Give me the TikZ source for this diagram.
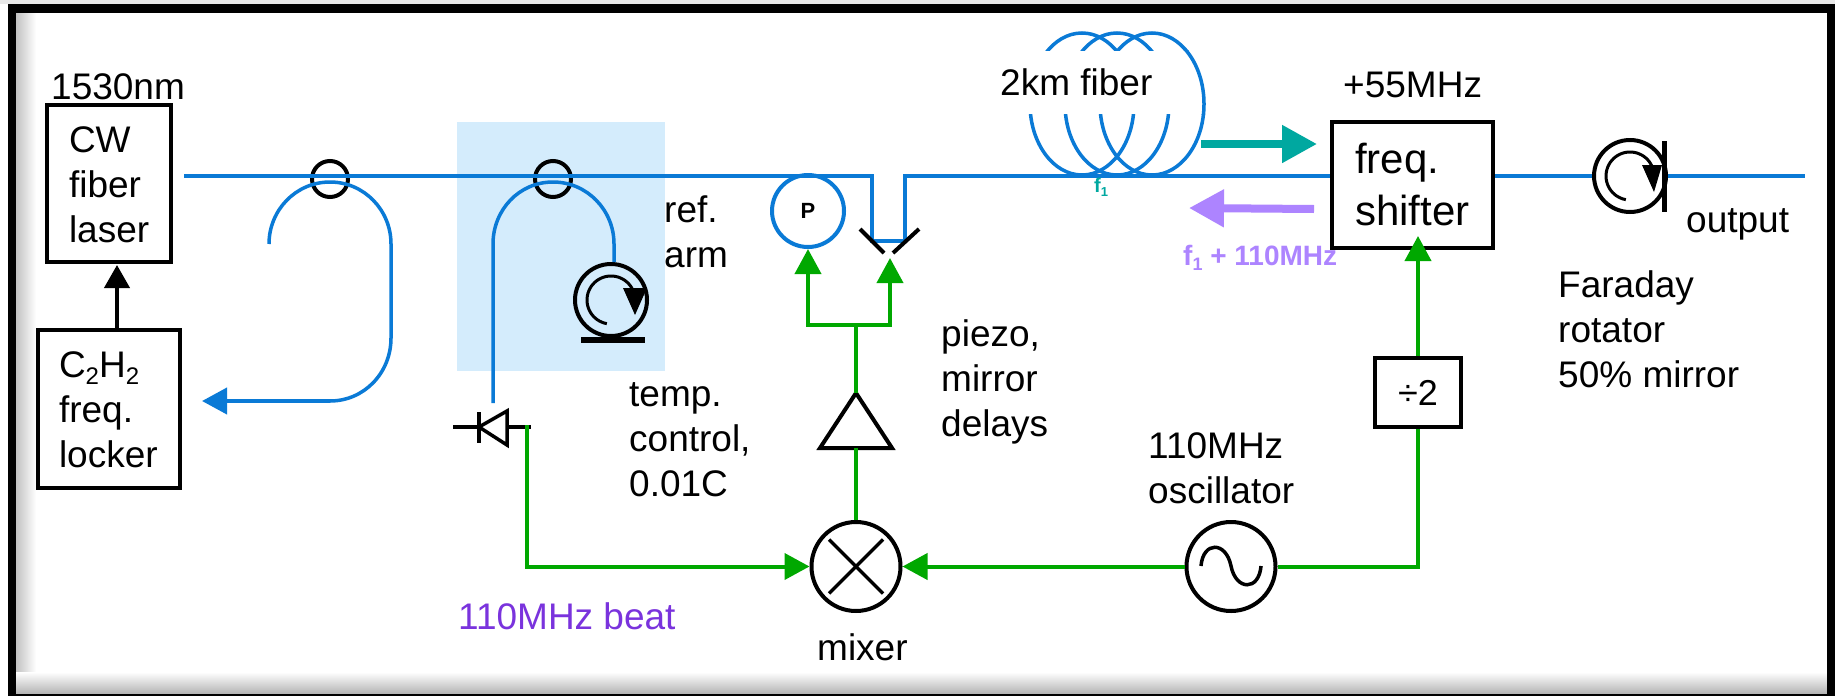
\documentclass[tikz,border=0pt]{standalone}
\usepackage{fontspec}
\setmainfont{Liberation Sans}
\usetikzlibrary{arrows.meta,calc}
\definecolor{fiberblue}{HTML}{0A7AD6}
\definecolor{sigreen}{HTML}{00A800}
\definecolor{tealc}{HTML}{00A8A0}
\definecolor{lilac}{HTML}{AD84FF}
\definecolor{beatpurple}{HTML}{7A33DD}
\definecolor{panel}{HTML}{D4ECFC}
\newcommand{\fsz}[2]{\fontsize{#1}{#2}\selectfont}
\tikzset{
  fiber/.style={draw=fiberblue,line width=4pt},
  sig/.style={draw=sigreen,line width=4pt},
  gtip/.style={-{Triangle[length=25pt,width=26pt]}},
  boxn/.style={draw=black,line width=4.5pt,inner sep=0pt,align=left},
  ring/.style={circle,draw=black,line width=4pt,inner sep=0pt},
  lbl/.style={anchor=base west,inner sep=0pt,align=left,font=\fsz{37}{45}},
  blackline/.style={draw=black,line width=4pt},
}
\begin{document}
\begin{tikzpicture}[x=1pt,y=-1pt]
\useasboundingbox (0,0) rectangle (1835,696);
% page and frame
\fill[white] (0,0) rectangle (1835,696);
\fill[black!9] (0,0) rectangle (1835,4);
\shade[left color=black!24,right color=white] (16,12) rectangle (36,672);
\shade[top color=white,bottom color=black!30] (16,672) rectangle (1827,694);
\fill[black] (8,4) rectangle (1835,12.5);
\fill[black] (8,4) rectangle (16,696);
\fill[black] (1826.5,4) rectangle (1835,696);
\fill[black] (8,694) rectangle (1835,696);
% temperature controlled panel
\fill[panel] (457,122) rectangle (665,371);

% boxes
\node[boxn,minimum width=124pt,minimum height=157pt,text width=80pt,font=\fsz{37}{45},text height=0pt,text depth=63pt] (laser) at (109,183.5) {CW\\fiber\\laser};
\node[boxn,minimum width=142pt,minimum height=158pt,text width=100pt,font=\fsz{37}{45},text height=0pt,text depth=64pt] (locker) at (109,409) {C\raisebox{-7pt}{\fsz{24}{24}2}H\raisebox{-7pt}{\fsz{24}{24}2}\\freq.\\locker};
\node[boxn,minimum width=161pt,minimum height=126pt,text width=115pt,font=\fsz{42}{52},text height=0pt,text depth=24pt] (shifter) at (1412.5,185) {freq.\\shifter};
\node[boxn,minimum width=86pt,minimum height=69pt,align=center,font=\fsz{36}{45}] (div) at (1418,392.5) {÷2};

% circles
\node[ring,minimum size=36pt] (cplA) at (330,179) {};
\node[ring,minimum size=36pt] (cplB) at (553,179) {};
\node[ring,minimum size=72pt] (refrot) at (611,300) {};
\node[ring,minimum size=72pt] (farrot) at (1630,176) {};
\node[ring,minimum size=89pt] (mixer) at (856,566.5) {};
\node[ring,minimum size=89pt] (osc) at (1231,566.5) {};
\node[circle,draw=fiberblue,line width=4pt,inner sep=0pt,minimum size=72pt,font=\bfseries\fsz{22}{22}] (det) at (808,211) {P};

% blue fibre
\coordinate (mstart) at (184,176);
\coordinate (bendA) at (872,176);
\coordinate (bendB) at (872,241);
\coordinate (bendC) at (905,241);
\coordinate (bendD) at (905,176);
\coordinate (outend) at (1805,176);
\draw[fiber,line join=miter] (mstart) -- (bendA) -- (bendB) -- (bendC) -- (bendD) -- (bendD -| shifter.west);
\draw[fiber] (farrot.east) -- (outend);
\draw[fiber] (shifter.east |- farrot.west) -- (farrot.west);

% tap 1
\coordinate (tapAstart) at (269,244);
\coordinate (tapAend) at (202,401);
\draw[draw=fiberblue,line width=3.5pt] (tapAstart) .. controls (269,210) and (296,182) .. (330,182)
  .. controls (364,182) and (391,210) .. (391,244) -- (391,338)
  .. controls (391,373) and (364,401) .. (330,401);
\draw[draw=fiberblue,line width=4pt,-{Triangle[length=25pt,width=26pt]}] (330,401) -- (tapAend);
% tap 2
\coordinate (tapBstart) at (493,403);
\draw[draw=fiberblue,line width=3.5pt] (tapBstart) -- (493,244) .. controls (493,210) and (519,182) .. (553,182)
  .. controls (587,182) and (614,210) .. (614,244) -- (614,262);

% coil
\begin{scope}
\clip (1000,20) rectangle (1225,50);
\foreach \c in {1082,1117,1152} \draw[fiberblue,line width=3.5pt] (\c,104) ellipse [x radius=52,y radius=71];
\end{scope}
\begin{scope}
\clip (1000,114) rectangle (1225,180);
\foreach \c in {1082,1117,1152} \draw[fiberblue,line width=3.5pt] (\c,104) ellipse [x radius=52,y radius=71];
\end{scope}
\begin{scope}
\clip (1152,50) rectangle (1225,114);
\draw[fiberblue,line width=3.5pt] (1152,104) ellipse [x radius=52,y radius=71];
\end{scope}

% rotators
\draw[black,line width=3pt] plot[domain=100:335,samples=40,variable=\t] ({611+24*cos(\t)},{300+24*sin(\t)});
\fill[black] (623,288) -- (647,288) -- (635,315) -- cycle;
\fill[black] (581,337) rectangle (645,343);
\draw[black,line width=3pt] plot[domain=100:335,samples=40,variable=\t] ({1630+24*cos(\t)},{176+24*sin(\t)});
\fill[black] (1642,165) -- (1662,165) -- (1654,192) -- cycle;
\fill[black] (1661.5,141) rectangle (1667,212);

% mirrors
\coordinate (mLa) at (860,229);
\coordinate (mLb) at (884,253);
\coordinate (mRa) at (919,229);
\coordinate (mRb) at (893,253);
\draw[blackline] (mLa) -- (mLb);
\draw[blackline] (mRa) -- (mRb);

% photodiode
\coordinate (dA) at (453,427);
\coordinate (dB) at (531,427);
\draw[blackline] (dA) -- (dB);
\draw[black,line width=4pt] (479,412) -- (479,443);
\draw[black,line width=3.5pt,fill=white] (479,427) -- (507,411) -- (507,445) -- cycle;

% mixer cross and sine
\draw[black,line width=3.5pt] ($(mixer.center)+(-27,-27)$) -- ($(mixer.center)+(27,27)$);
\draw[black,line width=3.5pt] ($(mixer.center)+(-27,27)$) -- ($(mixer.center)+(27,-27)$);
\draw[black,line width=3.5pt] (1201,566) .. controls (1203,541) and (1226,541) .. (1231,566) .. controls (1236,591) and (1259,591) .. (1261,566);

% amplifier
\node[inner sep=0pt,minimum size=0pt] (ampbase) at (856,448) {};
\node[inner sep=0pt,minimum size=0pt] (ampapex) at (856,393) {};
\draw[black,line width=4pt,line join=miter] (ampapex.center) -- (892,448) -- (820,448) -- cycle;

% green signal lines
\coordinate (diodeout) at (527,425);
\coordinate (shiftin) at (1418,236);
\draw[sig,gtip] (diodeout) -- (diodeout |- mixer.west) -- (mixer.west);
\draw[sig,gtip] (osc.west) -- (mixer.east);
\draw[sig] (osc.east) -- (osc.east -| div.south) -- (div.south);
\draw[sig,gtip] (div.north) -- (shiftin);
\draw[sig] (mixer.north) -- (ampbase.center);
\coordinate (splitL) at (808,325);
\coordinate (splitR) at (890,325);
\coordinate (splitM) at (856,325);
\draw[sig] (ampapex.center) -- (splitM);
\draw[sig,gtip] (splitM) -- (splitL) -- (det.south);
\coordinate (mirrorin) at (890,258);
\draw[sig,gtip] (splitM) -- (splitR) -- (mirrorin);

% lock arrow
\coordinate (lockfrom) at (117,328);
\coordinate (lockto) at (117,265);
\draw[black,line width=4pt,-{Triangle[length=23pt,width=25pt]}] (lockfrom) -- (lockto);

% direction arrows
\coordinate (tealA) at (1201,144);
\coordinate (tealB) at (1317,144);
\draw[tealc,line width=8pt,-{Triangle[length=35pt,width=36pt]}] (tealA) -- (tealB);
\coordinate (lilA) at (1314,209);
\coordinate (lilB) at (1189,208);
\draw[lilac,line width=8pt,-{Triangle[length=35pt,width=36pt]}] (lilA) -- (lilB);

% labels
\node[lbl] (t1530) at (51,99) {1530nm};
\node[lbl] (tref) at (664,267) {ref.\\arm};
\node[lbl] (ttemp) at (629,496) {temp.\\control,\\0.01C};
\node[lbl] (tpiezo) at (941,436) {piezo,\\mirror\\delays};
\node[lbl] (tcoil) at (1000,95) {2km fiber};
\node[lbl] (t55) at (1343,97) {+55MHz};
\node[lbl] (toutput) at (1686,232) {output};
\node[lbl] (tfar) at (1558,387) {Faraday\\rotator\\50\% mirror};
\node[lbl] (tosc) at (1148,503) {110MHz\\oscillator};
\node[lbl] (tmix) at (817,660) {mixer};
\node[lbl,font=\fsz{37}{40},text=beatpurple] (tbeat) at (458,629) {110MHz beat};
\node[lbl,font=\bfseries\fsz{20}{20},text=tealc] (tf1) at (1094,192) {f\raisebox{-4pt}{\fsz{13}{13}1}};
\node[lbl,font=\bfseries\fsz{28}{28},text=lilac] (tf2) at (1183,265) {f\raisebox{-5pt}{\fsz{18}{18}1} + 110MHz};
\end{tikzpicture}
\end{document}
